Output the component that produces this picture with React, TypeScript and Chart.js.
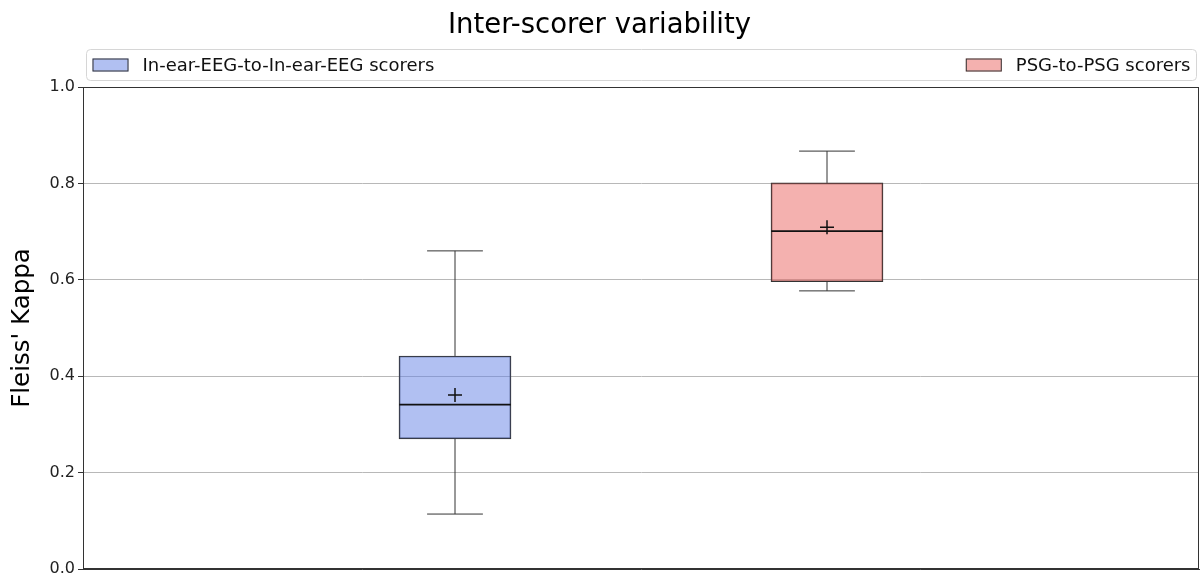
import React, { useEffect, useRef } from "react";
import { Chart, registerables } from "chart.js";

Chart.register(...registerables);

const groupNames = ["In-ear-EEG-to-In-ear-EEG scorers", "PSG-to-PSG scorers"];
const groupPositions = [1, 2];
const whiskerLow = [0.114, 0.577];
const q1Values = [0.27, 0.596];
const medianValues = [0.341, 0.701];
const q3Values = [0.442, 0.801];
const whiskerHigh = [0.66, 0.867];
const meanValues = [0.361, 0.709];
const yTicks = [0, 0.2, 0.4, 0.6, 0.8, 1.0];
const fillColors = ["rgba(100,130,230,0.5)", "rgba(234,100,95,0.5)"];

const BOX_HALF = 0.15;
const CAP_HALF = 0.075;
const FONT = "'DejaVu Sans', sans-serif";

const framePlugin = {
  id: "frame",
  afterDatasetsDraw(chart: any) {
    const { ctx, chartArea } = chart;
    ctx.save();
    ctx.strokeStyle = "#333";
    ctx.lineWidth = 1;
    ctx.strokeRect(
      Math.round(chartArea.left) + 0.5,
      Math.round(chartArea.top) + 0.5,
      Math.round(chartArea.right - chartArea.left) - 1,
      Math.round(chartArea.bottom - chartArea.top) - 1
    );
    ctx.restore();
  },
};

const legendPlugin = {
  id: "customLegend",
  afterDraw(chart: any) {
    const { ctx, chartArea } = chart;
    const left = chartArea.left + 3.5;
    const right = chartArea.right - 2.5;
    const top = 49.5;
    const bottom = 80.5;
    ctx.save();
    ctx.beginPath();
    ctx.roundRect(left, top, right - left, bottom - top, 4);
    ctx.fillStyle = "rgba(255,255,255,0.8)";
    ctx.fill();
    ctx.strokeStyle = "#d6d6d6";
    ctx.lineWidth = 1;
    ctx.stroke();
    ctx.font = `18px ${FONT}`;
    ctx.textBaseline = "middle";
    ctx.fillStyle = "#111";
    const cy = (top + bottom) / 2;
    const swW = 36;
    const swH = 13;
    let sx = left + 6;
    ctx.fillStyle = fillColors[0];
    ctx.fillRect(sx, cy - swH / 2, swW, swH);
    ctx.strokeStyle = "#333";
    ctx.strokeRect(sx + 0.5, cy - swH / 2 + 0.5, swW - 1, swH - 1);
    ctx.fillStyle = "#111";
    ctx.textAlign = "left";
    ctx.fillText(groupNames[0], sx + swW + 14, cy + 1);
    const w2 = ctx.measureText(groupNames[1]).width;
    const tx = right - 6 - w2;
    sx = tx - 14 - swW;
    ctx.fillStyle = fillColors[1];
    ctx.fillRect(sx, cy - swH / 2, swW, swH);
    ctx.strokeStyle = "#333";
    ctx.strokeRect(sx + 0.5, cy - swH / 2 + 0.5, swW - 1, swH - 1);
    ctx.fillStyle = "#111";
    ctx.fillText(groupNames[1], tx, cy + 1);
    ctx.restore();
  },
};

export default function App() {
  const canvasRef = useRef<HTMLCanvasElement | null>(null);

  useEffect(() => {
    if (!canvasRef.current) return;
    const datasets: any[] = [];

    datasets.push({
      type: "scatter",
      label: "mean",
      data: groupPositions.map((x, i) => ({ x, y: meanValues[i] })),
      pointStyle: "cross",
      pointRadius: 7,
      borderColor: "#111",
      borderWidth: 1.5,
      backgroundColor: "#111",
      order: 0,
    });

    groupPositions.forEach((x, i) => {
      datasets.push({
        type: "line",
        label: "median",
        data: [
          { x: x - BOX_HALF, y: medianValues[i] },
          { x: x + BOX_HALF, y: medianValues[i] },
        ],
        borderColor: "#111",
        borderWidth: 1.6,
        pointRadius: 0,
        fill: false,
        order: 1,
      });
      datasets.push({
        type: "line",
        label: "whisker",
        data: [
          { x, y: whiskerLow[i] },
          { x, y: q1Values[i] },
          { x, y: null },
          { x, y: q3Values[i] },
          { x, y: whiskerHigh[i] },
        ],
        spanGaps: false,
        borderColor: "#333",
        borderWidth: 1,
        pointRadius: 0,
        fill: false,
        order: 2,
      });
      datasets.push({
        type: "line",
        label: "caps",
        data: [
          { x: x - CAP_HALF, y: whiskerLow[i] },
          { x: x + CAP_HALF, y: whiskerLow[i] },
          { x: x, y: null },
          { x: x - CAP_HALF, y: whiskerHigh[i] },
          { x: x + CAP_HALF, y: whiskerHigh[i] },
        ],
        spanGaps: false,
        borderColor: "#333",
        borderWidth: 1,
        pointRadius: 0,
        fill: false,
        order: 2,
      });
    });

    datasets.push({
      type: "bar",
      label: "boxes",
      data: groupPositions.map((x, i) => ({ x, y: [q1Values[i], q3Values[i]] })),
      backgroundColor: fillColors,
      borderColor: "#333",
      borderWidth: 1,
      borderSkipped: false,
      barThickness: 112,
      grouped: false,
      order: 3,
    });

    const chart = new Chart(canvasRef.current, {
      type: "bar",
      data: { datasets },
      plugins: [framePlugin, legendPlugin],
      options: {
        animation: false,
        responsive: true,
        maintainAspectRatio: false,
        layout: { autoPadding: false, padding: { left: 0, right: 2, top: 0, bottom: 10 } },
        plugins: {
          legend: { display: false },
          tooltip: { enabled: false },
          title: {
            display: true,
            text: "Inter-scorer variability",
            color: "#000",
            font: { family: FONT, size: 27.5, weight: "normal" },
            padding: { top: 9, bottom: 45 },
          },
        },
        scales: {
          x: {
            type: "linear",
            min: 0,
            max: 3,
            offset: false,
            ticks: { display: false },
            grid: { display: false },
            border: { display: true, color: "#333" },
            afterFit(scale: any) {
              scale.height = 0;
              scale.paddingLeft = 0;
              scale.paddingRight = 0;
              scale.paddingTop = 0;
              scale.paddingBottom = 0;
            },
          },
          y: {
            type: "linear",
            min: 0,
            max: 1,
            afterBuildTicks(scale: any) {
              scale.ticks = yTicks.map((v) => ({ value: v }));
            },
            ticks: {
              color: "#222",
              font: { family: FONT, size: 16 },
              padding: 3,
              callback: (v: any) => Number(v).toFixed(1),
            },
            grid: {
              color: "#b8b8b8",
              lineWidth: 1,
              tickColor: "#333",
              tickLength: 5,
            },
            border: { display: true, color: "#333" },
            title: {
              display: true,
              text: "Fleiss' Kappa",
              color: "#000",
              font: { family: FONT, size: 24.5 },
              padding: { top: 8, bottom: 0 },
            },
            afterFit(scale: any) {
              scale.width = 83;
              scale.paddingTop = 0;
              scale.paddingBottom = 0;
              scale.paddingLeft = 0;
              scale.paddingRight = 0;
            },
          },
        },
      },
    } as any);

    return () => chart.destroy();
  }, []);

  return (
    <div style={{ position: "fixed", left: 0, top: 0, width: 1201, height: 579, background: "#fff" }}>
      <canvas ref={canvasRef} />
    </div>
  );
}
